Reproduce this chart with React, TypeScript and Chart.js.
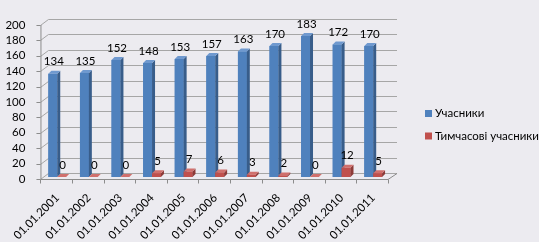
import React, { useEffect, useRef } from "react";
import { Chart, registerables } from "chart.js";

Chart.register(...registerables);

const categories = [
  "01.01.2001", "01.01.2002", "01.01.2003", "01.01.2004", "01.01.2005", "01.01.2006",
  "01.01.2007", "01.01.2008", "01.01.2009", "01.01.2010", "01.01.2011",
];
const participants = [134, 135, 152, 148, 153, 157, 163, 170, 183, 172, 170];
const temporary = [0, 0, 0, 5, 7, 6, 3, 2, 0, 12, 5];
const seriesNames = ["Учасники", "Тимчасові учасники"];
const yMin = 0;
const yMax = 200;
const yStep = 20;

const FONT = "Lato, 'Open Sans', sans-serif";
const BG = "#ECEBF0";
const FRONT = ["#4F81BD", "#C0504D"];
const SIDE = ["#385D8A", "#8C3A38"];
const TOP = ["#6F99CF", "#D0706D"];

const wallPlugin = {
  id: "wall3d",
  beforeDraw(chart: any) {
    const { ctx } = chart;
    ctx.save();
    ctx.fillStyle = BG;
    ctx.fillRect(0, 0, chart.width, chart.height);
    ctx.restore();
  },
  beforeDatasetsDraw(chart: any) {
    const { ctx, chartArea: ca, scales } = chart;
    const x = scales.x;
    const y = scales.y;
    const fl = ca.left - 1;
    const fr = ca.right - 1;
    const BX = 8;
    ctx.save();
    ctx.lineWidth = 1;
    ctx.strokeStyle = "#A6A6A6";
    for (let v = yMin; v <= yMax; v += yStep) {
      const py = Math.round(y.getPixelForValue(v));
      const yb = py - 4 + 0.5;
      const yf = py + 2 + 0.5;
      ctx.beginPath();
      ctx.moveTo(fl + BX, yb);
      ctx.lineTo(fr + BX + 1, yb);
      ctx.stroke();
      ctx.beginPath();
      ctx.moveTo(fl, yf);
      ctx.lineTo(fl + BX, yb);
      ctx.stroke();
    }
    ctx.strokeStyle = "#8C8C8C";
    for (let v = yMin; v <= yMax; v += yStep) {
      const py = Math.round(y.getPixelForValue(v));
      const yf = py + 2 + 0.5;
      ctx.beginPath();
      ctx.moveTo(fl - 4, yf);
      ctx.lineTo(fl, yf);
      ctx.stroke();
    }
    const yTopF = Math.round(y.getPixelForValue(yMax)) + 2;
    const y0 = Math.round(y.getPixelForValue(yMin));
    const yFloor = y0 + 2 + 0.5;
    ctx.beginPath();
    ctx.moveTo(fl + 0.5, yTopF);
    ctx.lineTo(fl + 0.5, yFloor);
    ctx.stroke();
    ctx.beginPath();
    ctx.moveTo(fl, yFloor);
    ctx.lineTo(fr, yFloor);
    ctx.lineTo(fr + BX + 1, y0 - 4 + 0.5);
    ctx.stroke();
    const step = x.getPixelForValue(1) - x.getPixelForValue(0);
    for (let i = 0; i <= categories.length; i++) {
      const bx = Math.round(x.getPixelForValue(0) - step / 2 + i * step) - 1 + 0.5;
      ctx.beginPath();
      ctx.moveTo(bx, yFloor);
      ctx.lineTo(bx, yFloor + 4);
      ctx.stroke();
    }
    ctx.restore();
  },
  afterDatasetsDraw(chart: any) {
    const { ctx } = chart;
    const metas = [chart.getDatasetMeta(0), chart.getDatasetMeta(1)];
    const D = 3;
    ctx.save();
    for (let i = 0; i < categories.length; i++) {
      for (let s = 0; s < 2; s++) {
        const el: any = metas[s].data[i];
        const l = el.x - el.width / 2;
        const r = el.x + el.width / 2;
        const t = el.y;
        const b = el.base;
        ctx.fillStyle = FRONT[s];
        ctx.fillRect(l, t, r - l, b - t);
        ctx.fillStyle = SIDE[s];
        ctx.beginPath();
        ctx.moveTo(r, t);
        ctx.lineTo(r + D, t - D);
        ctx.lineTo(r + D, b - D);
        ctx.lineTo(r, b);
        ctx.closePath();
        ctx.fill();
        ctx.fillStyle = TOP[s];
        ctx.beginPath();
        ctx.moveTo(l, t);
        ctx.lineTo(l + D, t - D);
        ctx.lineTo(r + D, t - D);
        ctx.lineTo(r, t);
        ctx.closePath();
        ctx.fill();
      }
    }
    ctx.fillStyle = "#000";
    ctx.font = `11.5px ${FONT}`;
    ctx.textAlign = "center";
    ctx.textBaseline = "middle";
    for (let s = 0; s < 2; s++) {
      const ds = chart.data.datasets[s].data;
      metas[s].data.forEach((el: any, i: number) => {
        ctx.fillText(String(ds[i]), el.x + 1, el.y - 12);
      });
    }
    ctx.restore();
  },
  afterDraw(chart: any) {
    const { ctx } = chart;
    ctx.save();
    ctx.font = `11.5px ${FONT}`;
    ctx.textBaseline = "middle";
    ctx.textAlign = "left";
    const ys = [113.5, 136];
    chart.data.datasets.forEach((ds: any, i: number) => {
      ctx.fillStyle = FRONT[i];
      ctx.fillRect(425, ys[i] - 3.5, 7, 7);
      ctx.fillStyle = "#000";
      ctx.fillText(ds.label, 435, ys[i]);
    });
    ctx.restore();
  },
};

export default function App() {
  const ref = useRef<HTMLCanvasElement>(null);
  useEffect(() => {
    document.body.style.margin = "0";
    const canvas = ref.current!;
    const chart = new Chart(canvas, {
      type: "bar",
      data: {
        labels: categories,
        datasets: [
          { label: seriesNames[0], data: participants, backgroundColor: FRONT[0] },
          { label: seriesNames[1], data: temporary, backgroundColor: FRONT[1] },
        ],
      },
      options: {
        animation: false,
        responsive: false,
        devicePixelRatio: 1,
        layout: { padding: { left: 0, top: 15, right: 150, bottom: 0 } },
        datasets: { bar: { categoryPercentage: 0.5625, barPercentage: 1 } } as any,
        plugins: { legend: { display: false }, tooltip: { enabled: false } },
        scales: {
          x: {
            grid: { display: false, drawTicks: false },
            border: { display: false },
            ticks: {
              color: "#000",
              font: { family: FONT, size: 11.5 },
              maxRotation: 45,
              minRotation: 45,
              padding: 14,
              autoSkip: false,
            },
            afterFit: (s: any) => { s.height = 65; },
          },
          y: {
            min: yMin,
            max: yMax,
            grid: { display: false, drawTicks: false },
            border: { display: false },
            ticks: {
              stepSize: yStep,
              autoSkip: false,
              color: "#000",
              font: { family: FONT, size: 11.5 },
              padding: 16,
              labelOffset: 2,
            },
            afterFit: (s: any) => { s.width = 37; },
          },
        },
      },
      plugins: [wallPlugin],
    });
    return () => chart.destroy();
  }, []);
  return <canvas ref={ref} width={539} height={242} style={{ display: "block" }} />;
}
